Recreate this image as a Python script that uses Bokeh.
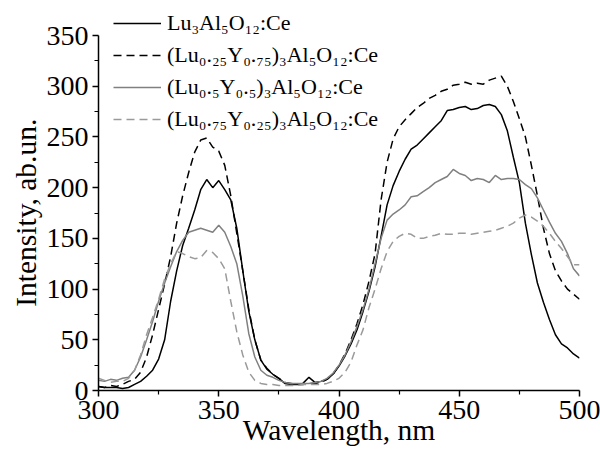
from bokeh.plotting import figure
from bokeh.models import Range1d, FixedTicker, Legend, LegendItem
from bokeh.embed import file_html
from bokeh.resources import INLINE

# ---- data ----
wavelength = [300 + 2.5 * i for i in range(81)]

lu3 = [4, 3, 3, 3, 2, 3, 6, 9, 14, 20, 31, 50, 88, 118, 143, 160, 178, 198,
       208, 200, 207, 198, 188, 160, 118, 78, 50, 30, 21, 16, 12, 7, 6, 6, 7, 13,
       8, 9, 11, 16, 24, 34, 46, 60, 78, 98, 122, 152, 183, 202, 216, 228, 238,
       242, 248, 254, 260, 266, 276, 277, 279, 280, 277, 278, 281, 282, 280,
       272, 256, 230, 205, 165, 134, 106, 87, 70, 55, 46, 42, 36, 32]

lu025 = [4, 3, 5, 4, 6, 9, 11, 18, 33, 55, 80, 105, 132, 165, 192, 215, 235,
         247, 249, 240, 236, 222, 192, 155, 118, 80, 50, 30, 22, 16, 12, 8, 7,
         6, 6, 7, 7, 8, 11, 16, 25, 36, 50, 66, 85, 108, 135, 188, 225, 248,
         260, 267, 273, 279, 283, 288, 291, 295, 297, 301, 302, 304, 302, 303,
         302, 306, 308, 310, 300, 285, 268, 250, 222, 192, 160, 135, 118, 108,
         100, 95, 90]

lu05 = [10, 9, 11, 10, 12, 13, 20, 33, 50, 68, 88, 106, 122, 137, 148, 156,
        158, 160, 158, 156, 163, 156, 142, 125, 93, 56, 33, 20, 15, 13, 10, 8,
        7, 7, 7, 7, 8, 9, 12, 17, 25, 35, 48, 63, 80, 100, 125, 150, 168, 174,
        178, 183, 191, 192, 196, 200, 205, 208, 211, 218, 214, 212, 207, 209,
        208, 205, 212, 208, 209, 209, 208, 203, 199, 190, 178, 166, 155, 147,
        135, 120, 113]

lu075 = [12, 10, 8, 9, 9, 12, 20, 35, 55, 72, 90, 110, 125, 137, 135, 132,
         130, 131, 138, 136, 130, 120, 88, 58, 35, 18, 10, 7, 6, 6, 5, 5, 5, 5,
         6, 6, 6, 6, 7, 9, 12, 18, 28, 45, 60, 82, 100, 120, 137, 147, 152,
         155, 154, 150, 150, 152, 153, 155, 154, 154, 155, 155, 154, 155, 156,
         157, 158, 160, 162, 165, 170, 173, 171, 167, 162, 155, 147, 140, 132,
         124, 124]

labels = ["Lu\u2083Al\u2085O\u2081\u2082:Ce",
          "(Lu\u2080.\u2082\u2085Y\u2080.\u2087\u2085)\u2083Al\u2085O\u2081\u2082:Ce",
          "(Lu\u2080.\u2085Y\u2080.\u2085)\u2083Al\u2085O\u2081\u2082:Ce",
          "(Lu\u2080.\u2087\u2085Y\u2080.\u2082\u2085)\u2083Al\u2085O\u2081\u2082:Ce"]

x_ticks = [300, 350, 400, 450, 500]
x_minor = [325, 375, 425, 475]
y_ticks = [0, 50, 100, 150, 200, 250, 300, 350]
y_minor = [25, 75, 125, 175, 225, 275, 325]
y_axis_max = 350

FONT = "Liberation Serif"

# frame extends a little above 350 so that the legend (which sits above the
# top tick in the reference) is not clipped; the axis itself stops at 350
p = figure(width=600, height=455, output_backend="svg", toolbar_location=None,
           x_range=Range1d(300, 500), y_range=Range1d(0, 379.6),
           min_border_left=98, min_border_right=21, min_border_top=5,
           min_border_bottom=65)
p.outline_line_color = None
p.xgrid.visible = False
p.ygrid.visible = False
p.background_fill_color = "white"

series = [
    (lu3, "black", "solid"),
    (lu025, "black", "8 5"),
    (lu05, "#808080", "solid"),
    (lu075, "#9a9a9a", "8 5"),
]
items = []
for (vals, col, dash), lab in zip(series, labels):
    r = p.line(wavelength, vals, line_color=col, line_width=1.5, line_dash=dash)
    items.append(LegendItem(label=lab, renderers=[r]))

for ax in (p.xaxis[0], p.yaxis[0]):
    ax.axis_line_width = 1.5
    ax.axis_line_color = "black"
    ax.major_tick_in = 0
    ax.major_tick_out = 6
    ax.minor_tick_in = 0
    ax.minor_tick_out = 4
    ax.major_tick_line_width = 1.5
    ax.minor_tick_line_width = 1.2
    ax.major_label_text_font = FONT
    ax.major_label_text_font_size = "28px"
    ax.major_label_text_color = "black"
    ax.axis_label_text_font = FONT
    ax.axis_label_text_font_size = "29.5px"
    ax.axis_label_text_font_style = "normal"
    ax.axis_label_text_color = "black"

p.xaxis.ticker = FixedTicker(ticks=x_ticks, minor_ticks=x_minor)
p.yaxis.ticker = FixedTicker(ticks=y_ticks, minor_ticks=y_minor)
p.yaxis.bounds = (0, y_axis_max)
p.xaxis.axis_label = "Wavelength, nm"
# trailing no-break spaces re-centre the label on the 0-350 part of the axis
p.yaxis.axis_label = "Intensity, ab.un.\u00a0\u00a0\u00a0\u00a0"
p.xaxis.major_label_standoff = 4
p.xaxis.axis_label_standoff = -8
p.yaxis.major_label_standoff = 4
p.yaxis.axis_label_standoff = 2

legend = Legend(items=items, location=(15, 258), orientation="vertical",
                label_text_font=FONT, label_text_font_size="22px",
                label_text_color="black", glyph_width=48, glyph_height=26,
                label_height=26, label_standoff=6, spacing=6, padding=0,
                margin=0, border_line_color=None, background_fill_alpha=0)
p.add_layout(legend)

open("out.html", "w").write(file_html(p, INLINE))
